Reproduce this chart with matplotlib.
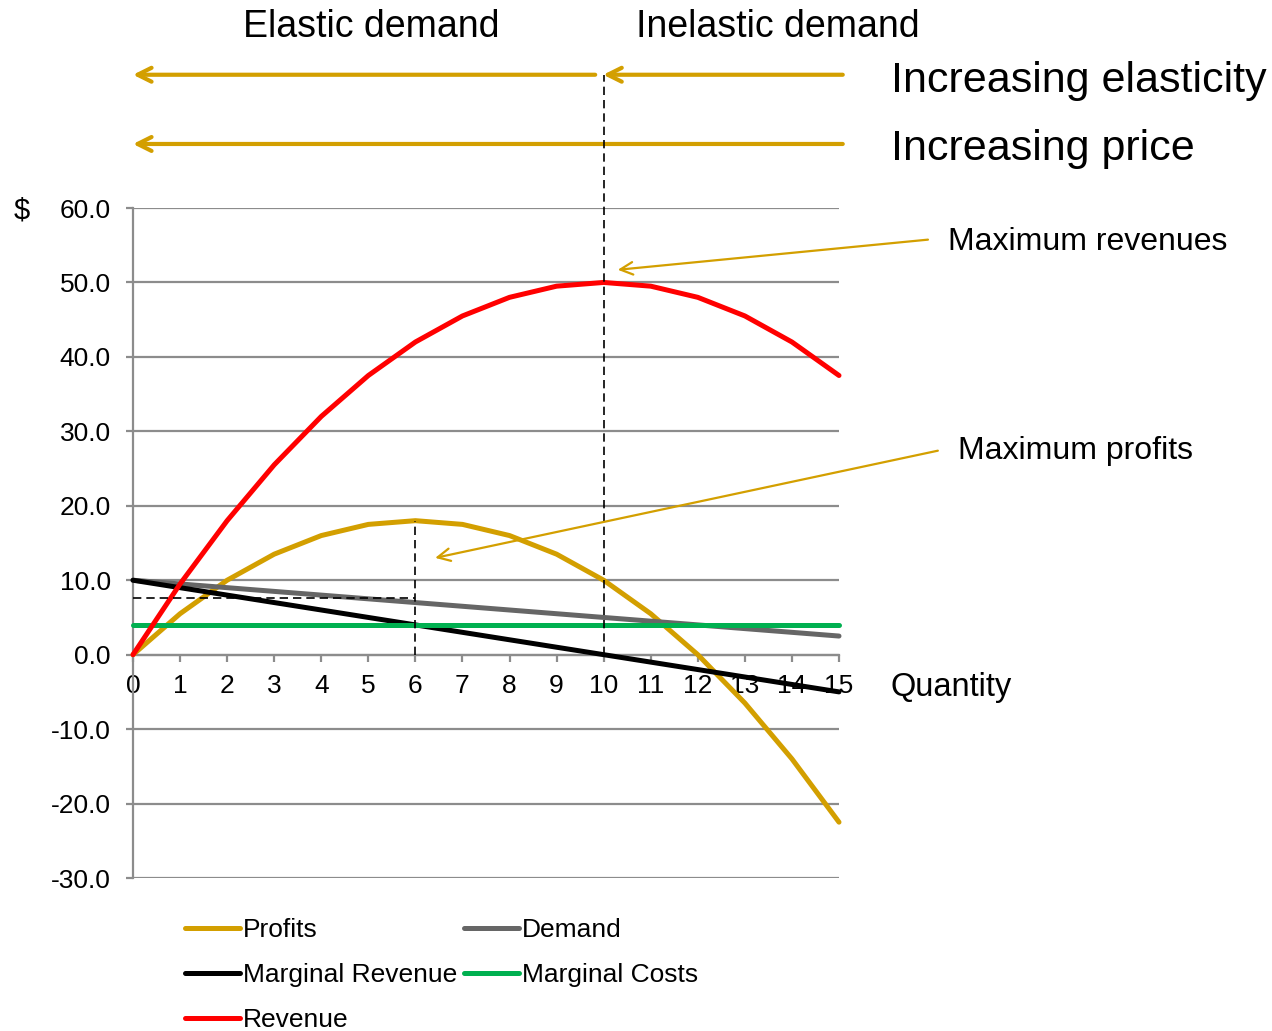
import matplotlib
matplotlib.use("Agg")
import matplotlib.pyplot as plt

plt.rcParams['font.family'] = ['Liberation Sans', 'DejaVu Sans']

quantity = list(range(16))
profits = [0, 5.5, 10, 13.5, 16, 17.5, 18, 17.5, 16, 13.5, 10, 5.5, 0, -6.5, -14, -22.5]
demand = [10, 9.5, 9, 8.5, 8, 7.5, 7, 6.5, 6, 5.5, 5, 4.5, 4, 3.5, 3, 2.5]
marginal_revenue = [10, 9, 8, 7, 6, 5, 4, 3, 2, 1, 0, -1, -2, -3, -4, -5]
marginal_costs = [4] * 16
revenue = [0, 9.5, 18, 25.5, 32, 37.5, 42, 45.5, 48, 49.5, 50, 49.5, 48, 45.5, 42, 37.5]

q_max_revenue = 10
q_max_profit = 6
price_at_max_profit = 7.6

GOLD = '#D39F00'
GRID = '#8C8C8C'

fig = plt.figure(figsize=(12.72, 10.31), dpi=100)
ax = fig.add_axes([133 / 1272, 153 / 1031, 706 / 1272, 670 / 1031])

lw = 3.6
l_prof, = ax.plot(quantity, profits, color=GOLD, lw=lw, label='Profits', zorder=3,
                  solid_capstyle='round', clip_on=False)
l_dem, = ax.plot(quantity, demand, color='#666666', lw=lw, label='Demand', zorder=4,
                 solid_capstyle='round', clip_on=False)
l_mr, = ax.plot(quantity, marginal_revenue, color='black', lw=lw, label='Marginal Revenue',
                zorder=5, solid_capstyle='round', clip_on=False)
l_mc, = ax.plot(quantity, marginal_costs, color='#00B050', lw=lw, label='Marginal Costs',
                zorder=6, solid_capstyle='round', clip_on=False)
l_rev, = ax.plot(quantity, revenue, color='red', lw=lw, label='Revenue', zorder=7,
                 solid_capstyle='round', clip_on=False)

ax.set_xlim(0, 15)
ax.set_ylim(-30, 60)
ax.set_yticks(range(-30, 61, 10))
ax.set_yticklabels([f'{v:.1f}' for v in range(-30, 61, 10)])
ax.set_xticks(quantity)

for s in ['top', 'right']:
    ax.spines[s].set_visible(False)
ax.spines['left'].set_color(GRID)
ax.spines['left'].set_linewidth(1.6)
ax.spines['bottom'].set_position(('data', 0))
ax.spines['bottom'].set_color(GRID)
ax.spines['bottom'].set_linewidth(1.6)
ax.yaxis.grid(True, color=GRID, lw=1.6)
ax.set_axisbelow(True)
ax.tick_params(axis='y', length=5, width=1.6, color=GRID, labelsize=19, pad=11)
ax.tick_params(axis='x', length=5, width=1.6, color=GRID, labelsize=19, pad=9)

# guide lines for the optimum points
dash = dict(color='black', lw=1.2, ls=(0, (5, 3)), zorder=8, clip_on=False)
ax.plot([q_max_revenue, q_max_revenue], [0, 77.9], **dash)
ax.plot([q_max_profit, q_max_profit], [0, profits[q_max_profit]], **dash)
ax.plot([0, q_max_profit], [price_at_max_profit, price_at_max_profit], **dash)

# elasticity / price arrows above the chart
big = dict(arrowstyle='->,head_length=1.0,head_width=0.5', color=GOLD, lw=3,
           shrinkA=0, shrinkB=0)
ax.annotate('', xy=(0, 77.9), xytext=(9.82, 77.9), arrowprops=big, annotation_clip=False)
ax.annotate('', xy=(9.99, 77.9), xytext=(15.08, 77.9), arrowprops=big, annotation_clip=False)
ax.annotate('', xy=(0, 68.6), xytext=(15.08, 68.6), arrowprops=big, annotation_clip=False)

ax.text(5.06, 84.3, 'Elastic demand', fontsize=27, ha='center', va='center')
ax.text(13.7, 84.3, 'Inelastic demand', fontsize=27, ha='center', va='center')
ax.text(16.1, 77.1, 'Increasing elasticity', fontsize=31, ha='left', va='center')
ax.text(16.1, 67.9, 'Increasing price', fontsize=31, ha='left', va='center')

thin = dict(arrowstyle='->,head_length=0.9,head_width=0.45', color=GOLD, lw=1.6,
            shrinkA=0, shrinkB=0)
ax.annotate('', xy=(10.3, 51.7), xytext=(16.89, 55.75), arrowprops=thin,
            annotation_clip=False, zorder=9)
ax.text(17.32, 55.5, 'Maximum revenues', fontsize=23, ha='left', va='center')
ax.annotate('', xy=(6.42, 13.0), xytext=(17.1, 27.4), arrowprops=thin,
            annotation_clip=False, zorder=9)
ax.text(17.53, 27.4, 'Maximum profits', fontsize=23, ha='left', va='center')

ax.text(16.1, -4.4, 'Quantity', fontsize=23.5, ha='left', va='center')
ax.text(-2.36, 59.6, '$', fontsize=21, ha='center', va='center')

fig.legend([l_prof, l_mr, l_rev, l_dem, l_mc],
           ['Profits', 'Marginal Revenue', 'Revenue', 'Demand', 'Marginal Costs'],
           ncol=2, loc='upper left', bbox_to_anchor=(185 / 1272, 1 - 918 / 1031),
           frameon=False, fontsize=19, handlelength=2.1, handletextpad=0.1,
           columnspacing=0.25, labelspacing=0.8, borderaxespad=0, borderpad=0)

fig.savefig('out.png', dpi=100)
